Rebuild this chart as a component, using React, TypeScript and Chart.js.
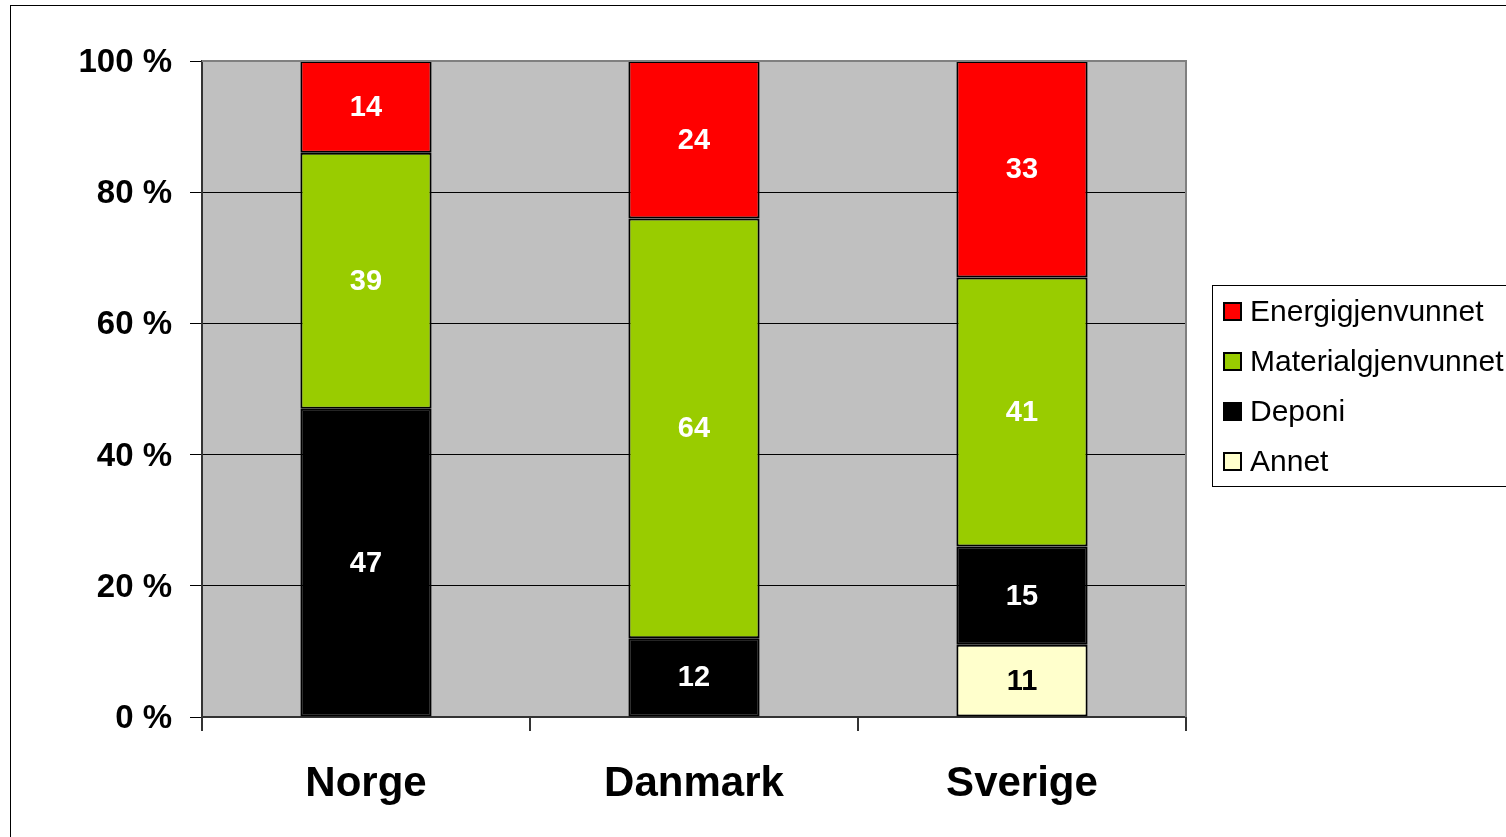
import React, { useEffect, useRef } from "react";
import { Chart, registerables } from "chart.js";

Chart.register(...registerables);

const categories = ["Norge", "Danmark", "Sverige"];
const seriesNames = ["Annet", "Deponi", "Materialgjenvunnet", "Energigjenvunnet"];
const annet = [0, 0, 11];
const deponi = [47, 12, 15];
const material = [39, 64, 41];
const energi = [14, 24, 33];
const seriesColors = ["#FFFFCC", "#000000", "#99CC00", "#FF0000"];
const labelColors = ["#000000", "#FFFFFF", "#FFFFFF", "#FFFFFF"];
const yTicks = [0, 20, 40, 60, 80, 100];

const FONT = "Arial, 'Liberation Sans', sans-serif";

const extrasPlugin = {
  id: "extras",
  afterDatasetsDraw(chart: any) {
    const ctx = chart.ctx;
    ctx.save();
    ctx.font = `bold 29px ${FONT}`;
    ctx.textAlign = "center";
    ctx.textBaseline = "middle";
    chart.data.datasets.forEach((ds: any, di: number) => {
      const meta = chart.getDatasetMeta(di);
      meta.data.forEach((el: any, i: number) => {
        const v = ds.data[i];
        if (!v) return;
        ctx.fillStyle = labelColors[di];
        ctx.fillText(String(v), el.x, (el.y + el.base) / 2 + 1);
      });
    });
    ctx.restore();
  },
  afterDraw(chart: any) {
    const ctx = chart.ctx;
    const a = chart.chartArea;
    ctx.save();
    ctx.strokeStyle = "#808080";
    ctx.lineWidth = 2;
    ctx.beginPath();
    ctx.moveTo(a.left, a.top);
    ctx.lineTo(a.right, a.top);
    ctx.lineTo(a.right, a.bottom);
    ctx.stroke();
    ctx.strokeStyle = "#000000";
    ctx.lineWidth = 1;
    ctx.strokeRect(10.5, 5.5, 3000, 3000);
    const lx = 1212, ly = 285, lw = 320, lh = 201;
    ctx.fillStyle = "#FFFFFF";
    ctx.fillRect(lx, ly, lw, lh);
    ctx.strokeStyle = "#000000";
    ctx.lineWidth = 1;
    ctx.strokeRect(lx + 0.5, ly + 0.5, lw, lh);
    ctx.font = `30px ${FONT}`;
    ctx.textAlign = "left";
    ctx.textBaseline = "middle";
    const order = [3, 2, 1, 0];
    order.forEach((di, k) => {
      const cy = 312 + k * 50;
      ctx.fillStyle = seriesColors[di];
      ctx.fillRect(1224, cy - 9, 17, 17);
      ctx.strokeStyle = "#000000";
      ctx.lineWidth = 2;
      ctx.strokeRect(1224, cy - 9, 17, 17);
      ctx.fillStyle = "#000000";
      ctx.fillText(seriesNames[di], 1250, cy + 1);
    });
    ctx.restore();
  },
};

export default function App() {
  const ref = useRef<HTMLCanvasElement>(null);
  useEffect(() => {
    document.body.style.margin = "0";
    const series = [annet, deponi, material, energi];
    const chart = new Chart(ref.current!, {
      type: "bar",
      data: {
        labels: categories,
        datasets: series.map((d, i) => ({
          label: seriesNames[i],
          data: d,
          backgroundColor: seriesColors[i],
          borderColor: "#000000",
          borderWidth: 2,
          borderSkipped: false,
          barPercentage: 0.4,
          categoryPercentage: 1,
        })),
      },
      options: {
        responsive: false,
        animation: false,
        layout: { padding: { left: 0, top: 61, right: 320, bottom: 0 } },
        plugins: { legend: { display: false }, tooltip: { enabled: false } },
        scales: {
          x: {
            stacked: true,
            grid: {
              display: true,
              drawOnChartArea: false,
              offset: true,
              tickLength: 14,
              color: "#333333",
              lineWidth: 2,
            },
            border: { display: true, color: "#333333", width: 2 },
            ticks: {
              color: "#000000",
              font: { family: FONT, size: 42, weight: "bold" },
              padding: 28,
              maxRotation: 0,
            },
            afterFit(scale: any) {
              scale.height = 120;
            },
          },
          y: {
            stacked: true,
            min: 0,
            max: 100,
            afterBuildTicks(scale: any) {
              scale.ticks = yTicks.map((v) => ({ value: v }));
            },
            grid: { color: "#000000", lineWidth: 1, tickLength: 12 },
            border: { display: true, color: "#333333", width: 2 },
            ticks: {
              color: "#000000",
              font: { family: FONT, size: 33, weight: "bold" },
              padding: 18,
              labelOffset: 2,
              callback: (v: any) => `${v} %`,
            },
            afterFit(scale: any) {
              scale.width = 202;
            },
          },
        },
      },
      plugins: [
        {
          id: "bg",
          beforeDraw(chart: any) {
            const a = chart.chartArea;
            chart.ctx.save();
            chart.ctx.fillStyle = "#FFFFFF";
            chart.ctx.fillRect(0, 0, chart.width, chart.height);
            chart.ctx.fillStyle = "#C0C0C0";
            chart.ctx.fillRect(a.left, a.top, a.right - a.left, a.bottom - a.top);
            chart.ctx.restore();
          },
        },
        extrasPlugin,
      ],
    } as any);
    return () => chart.destroy();
  }, []);
  return (
    <div style={{ position: "absolute", left: 0, top: 0, width: 1506, height: 837 }}>
      <canvas ref={ref} width={1506} height={837} />
    </div>
  );
}
